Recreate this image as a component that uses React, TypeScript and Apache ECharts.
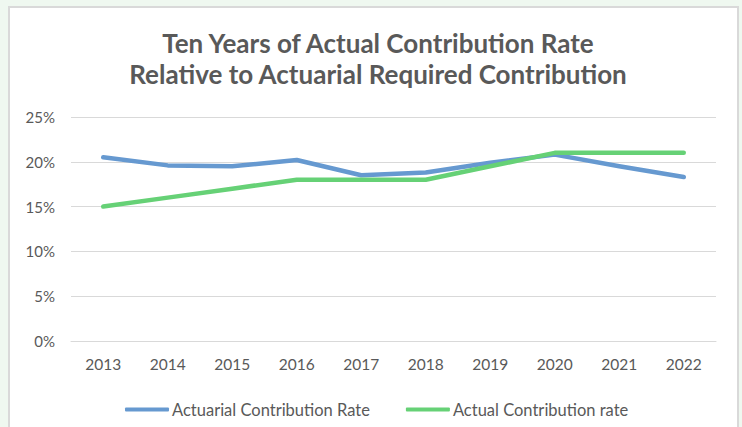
import React, { useEffect, useRef } from "react";
import * as echarts from "echarts";

const years = ["2013", "2014", "2015", "2016", "2017", "2018", "2019", "2020", "2021", "2022"];
const actuarialRate = [20.5, 19.6, 19.5, 20.2, 18.5, 18.8, 19.9, 20.8, 19.5, 18.3];
const actualRate = [15.0, 16.0, 17.0, 18.0, 18.0, 18.0, 19.5, 21.0, 21.0, 21.0];
const seriesNames = ["Actuarial Contribution Rate", "Actual Contribution rate"];
const titleLines = ["Ten Years of Actual Contribution Rate", "Relative to Actuarial Required Contribution"];

export default function App() {
  const ref = useRef<HTMLDivElement>(null);
  useEffect(() => {
    if (!ref.current) return;
    const chart = echarts.init(ref.current, undefined, { renderer: "svg" });
    const font = "Lato, 'Open Sans', sans-serif";
    chart.setOption({
      animation: false,
      backgroundColor: "#eff8f0",
      graphic: [
        {
          type: "rect",
          z: -10,
          shape: { x: 9, y: 7, width: 729, height: 440 },
          style: { fill: "#ffffff", stroke: "#d9d9d9", lineWidth: 2 },
        },
      ],
      title: {
        text: titleLines.join("\n"),
        left: 373,
        textAlign: "center",
        top: 22,
        textStyle: {
          fontFamily: font,
          fontSize: 26,
          fontWeight: "bold",
          color: "#595959",
          lineHeight: 31,
        },
      },
      grid: { left: 71, right: 26, top: 117, bottom: 86, containLabel: false },
      xAxis: {
        type: "category",
        data: years,
        boundaryGap: true,
        axisLine: { show: true, lineStyle: { color: "#d9d9d9", width: 1 } },
        axisTick: { show: false },
        axisLabel: { color: "#595959", fontFamily: font, fontSize: 15.5, margin: 15 },
      },
      yAxis: {
        type: "value",
        min: 0,
        max: 25,
        interval: 5,
        axisLine: { show: false },
        axisTick: { show: false },
        splitLine: { lineStyle: { color: "#d9d9d9", width: 1 } },
        axisLabel: {
          formatter: "{value}%",
          color: "#595959",
          fontFamily: font,
          fontSize: 15,
          margin: 16,
        },
      },
      legend: {
        data: seriesNames,
        left: 120,
        top: 396,
        itemWidth: 44,
        itemHeight: 4,
        itemGap: 36,
        icon: "roundRect",
        textStyle: { color: "#595959", fontFamily: font, fontSize: 16.5, padding: [0, 0, 0, -2] },
      },
      series: [
        {
          name: seriesNames[0],
          type: "line",
          data: actuarialRate,
          showSymbol: false,
          symbol: "none",
          color: "#6699d0",
          lineStyle: { width: 4.5, color: "#6699d0", cap: "round", join: "round" },
        },
        {
          name: seriesNames[1],
          type: "line",
          data: actualRate,
          showSymbol: false,
          symbol: "none",
          color: "#66d176",
          lineStyle: { width: 4.5, color: "#66d176", cap: "round", join: "round" },
        },
      ],
    });
    return () => chart.dispose();
  }, []);
  return (
    <div
      ref={ref}
      style={{ position: "absolute", left: 0, top: 0, width: 742, height: 427 }}
    />
  );
}
